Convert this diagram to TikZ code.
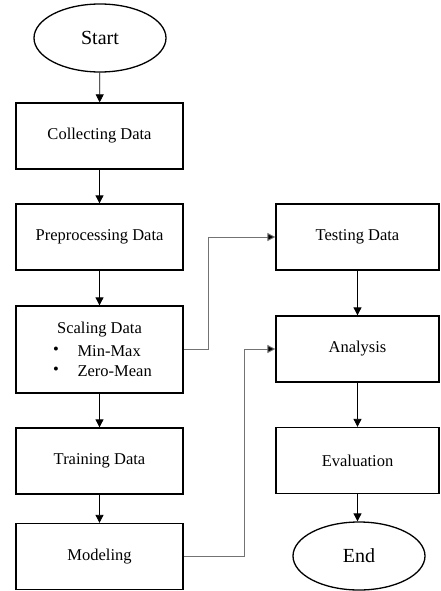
\documentclass[tikz,border=0pt]{standalone}
\usepackage{fontspec}
\setmainfont{Liberation Serif}
\usetikzlibrary{shapes.geometric,arrows.meta}
\begin{document}
\begin{tikzpicture}[x=1pt,y=-1pt,
  box/.style={draw,line width=1.3pt,minimum width=167pt,minimum height=66pt,inner sep=0pt,font=\fontsize{16.5}{19}\selectfont},
  term/.style={draw,ellipse,line width=1.3pt,minimum width=132pt,minimum height=68pt,inner sep=0pt,font=\fontsize{20}{24}\selectfont},
  arr/.style={line width=0.8pt,-{Triangle[length=8pt,width=8pt]}},
  garr/.style={line width=0.9pt,draw=black!55,-{Triangle[length=8pt,width=8pt,fill=black]}}]
\useasboundingbox (0,0) rectangle (440,591);
\node[term] (start) at (100,38) {Start};
\node[box] (collect) at (99.5,136) {Collecting Data};
\node[box] (prep) at (99.5,237) {Preprocessing Data};
\node[box,minimum height=87pt] (scale) at (99.5,349.5) {};
\node[font=\fontsize{16.5}{19}\selectfont] (scalet) at (99.5,330) {Scaling Data};
\node[font=\fontsize{16.5}{19}\selectfont,anchor=west] (mm) at (74,351) {Min-Max};
\node[font=\fontsize{16.5}{19}\selectfont,anchor=west] (zm) at (74,371) {Zero-Mean};
\node[font=\fontsize{16.5}{19}\selectfont] (b1) at (56,351) {•};
\node[font=\fontsize{16.5}{19}\selectfont] (b2) at (56,371) {•};
\node[box] (train) at (99.5,461) {Training Data};
\node[box] (model) at (99.5,556.5) {Modeling};
\node[box,minimum width=163pt] (test) at (357.5,237) {Testing Data};
\node[box,minimum width=163pt] (anal) at (357.5,349) {Analysis};
\node[box,minimum width=163pt] (eval) at (357.5,460.5) {Evaluation};
\node[term] (end) at (359,556) {End};
\draw[arr] (start) -- (collect);
\draw[arr] (collect) -- (prep);
\draw[arr] (prep) -- (scale);
\draw[arr] (scale) -- (train);
\draw[arr] (train) -- (model);
\draw[arr] (test) -- (anal);
\draw[arr] (anal) -- (eval);
\draw[arr] (eval.south) -- (eval.south |- end.north);
\coordinate (c1) at (208,349);
\coordinate (c2) at (244,557);
\draw[garr] (scale.east) -- (scale.east -| c1) |- (test.west);
\draw[garr] (model.east) -- (model.east -| c2) |- (anal.west);
\end{tikzpicture}
\end{document}
